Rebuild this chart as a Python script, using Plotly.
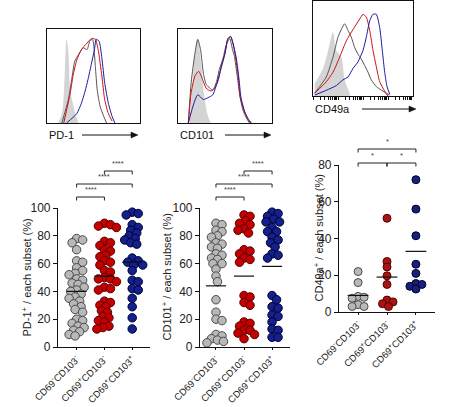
import plotly.graph_objects as go
import math

W, H = 450, 407

# ---------------- data ----------------
categories = ["CD69<sup>-</sup>CD103<sup>-</sup>", "CD69<sup>+</sup>CD103<sup>-</sup>", "CD69<sup>+</sup>CD103<sup>+</sup>"]

pd1_neg = [78, 77, 75, 70, 62, 61, 57, 55, 53, 52, 49, 48, 46, 45, 43, 41, 40, 38, 36, 35, 33, 31, 29, 27, 25, 20, 19, 17, 15, 14, 12, 11, 9, 8]
pd1_cd69 = [89, 88, 87, 86, 76, 75, 73, 70, 69, 66, 65, 62, 61, 59, 55, 54, 50, 49, 49, 47, 43, 42, 41, 33, 32, 30, 29, 26, 25, 22, 21, 19, 18, 15, 14, 13]
pd1_dp = [97, 96, 95, 88, 86, 84, 82, 80, 78, 77, 75, 74, 64, 62, 61, 59, 59, 55, 48, 47, 42, 41, 35, 29, 21, 13]
pd1_means = [40, 51, 61]

cd101_neg = [89, 88, 84, 83, 80, 79, 75, 74, 72, 71, 67, 66, 64, 63, 60, 60, 56, 51, 47, 34, 25, 20, 19, 9, 8, 6, 5, 4, 3]
cd101_cd69 = [95, 94, 91, 89, 88, 85, 84, 82, 70, 69, 67, 64, 63, 61, 37, 36, 32, 30, 18, 17, 15, 12, 12, 10, 9, 6]
cd101_dp = [97, 96, 94, 92, 90, 90, 86, 83, 83, 79, 77, 75, 72, 67, 66, 64, 37, 34, 29, 28, 23, 22, 18, 13, 12, 7, 7]
cd101_means = [44, 51, 58]

cd49a_neg = [22, 16, 8.5, 8, 7.5, 4, 3, 3]
cd49a_cd69 = [51, 27.5, 24.5, 19.7, 15, 6.5, 5.5, 4.5, 3]
cd49a_dp = [72, 56, 41.5, 26, 21, 15.5, 15, 14, 12.5]
cd49a_means = [9, 19, 33]

pd1_sig = ["****", "****", "****"]
cd101_sig = ["****", "****", "****"]
cd49a_sig = ["*", "*", "*"]
comparisons = [(0, 1), (0, 2), (1, 2)]

# histogram curves (relative scale 0..1)
pd1_iso_x = [0.12, 0.16, 0.19, 0.21, 0.23, 0.25, 0.28, 0.31, 0.34]
pd1_iso_y = [0.0, 0.1, 0.5, 0.89, 0.75, 0.35, 0.2, 0.08, 0.0]
pd1_neg_x = [0.16, 0.23, 0.265, 0.3, 0.34, 0.39, 0.43, 0.46, 0.49, 0.52, 0.54, 0.57, 0.61, 0.64]
pd1_neg_y = [0.0, 0.25, 0.46, 0.66, 0.73, 0.8, 0.78, 0.87, 0.89, 0.6, 0.35, 0.18, 0.07, 0.0]
pd1_cd69_x = [0.18, 0.25, 0.28, 0.32, 0.37, 0.43, 0.48, 0.52, 0.55, 0.59, 0.62, 0.66, 0.7]
pd1_cd69_y = [0.0, 0.32, 0.5, 0.67, 0.78, 0.85, 0.9, 0.89, 0.78, 0.5, 0.25, 0.1, 0.02]
pd1_dp_x = [0.21, 0.32, 0.37, 0.41, 0.44, 0.48, 0.51, 0.53, 0.56, 0.59, 0.62, 0.66, 0.7, 0.73]
pd1_dp_y = [0.0, 0.1, 0.21, 0.34, 0.46, 0.64, 0.78, 0.89, 0.87, 0.69, 0.43, 0.21, 0.07, 0.0]

cd101_iso_x = [0.12, 0.15, 0.18, 0.21, 0.25, 0.28, 0.32, 0.35]
cd101_iso_y = [0.0, 0.35, 0.75, 0.89, 0.6, 0.28, 0.07, 0.0]
cd101_neg_x = [0.11, 0.14, 0.18, 0.21, 0.24, 0.27, 0.3, 0.34, 0.37, 0.41, 0.44, 0.48, 0.51, 0.55, 0.58, 0.6, 0.63, 0.66, 0.69, 0.73, 0.76]
cd101_neg_y = [0.0, 0.43, 0.74, 0.89, 0.78, 0.53, 0.41, 0.37, 0.35, 0.44, 0.57, 0.69, 0.82, 0.9, 0.78, 0.71, 0.5, 0.28, 0.14, 0.05, 0.0]
cd101_cd69_x = [0.11, 0.14, 0.18, 0.22, 0.27, 0.3, 0.35, 0.39, 0.43, 0.46, 0.5, 0.53, 0.56, 0.59, 0.61, 0.64, 0.66, 0.7, 0.74, 0.78]
cd101_cd69_y = [0.0, 0.32, 0.5, 0.55, 0.44, 0.37, 0.34, 0.37, 0.46, 0.6, 0.74, 0.9, 0.92, 0.82, 0.71, 0.5, 0.28, 0.14, 0.04, 0.0]
cd101_dp_x = [0.11, 0.16, 0.21, 0.27, 0.32, 0.37, 0.41, 0.46, 0.5, 0.53, 0.56, 0.59, 0.62, 0.65, 0.67, 0.71, 0.75, 0.78]
cd101_dp_y = [0.0, 0.18, 0.3, 0.25, 0.27, 0.3, 0.41, 0.59, 0.74, 0.89, 0.92, 0.83, 0.69, 0.46, 0.27, 0.12, 0.04, 0.0]

cd49a_iso_x = [0.017, 0.067, 0.117, 0.167, 0.2, 0.233, 0.283, 0.317, 0.367]
cd49a_iso_y = [0.13, 0.22, 0.34, 0.55, 0.67, 0.48, 0.41, 0.17, 0.03]
cd49a_neg_x = [0.017, 0.067, 0.133, 0.2, 0.25, 0.283, 0.317, 0.35, 0.383, 0.417, 0.45, 0.483, 0.517, 0.55, 0.583, 0.633, 0.7, 0.767]
cd49a_neg_y = [0.03, 0.1, 0.2, 0.41, 0.62, 0.7, 0.76, 0.69, 0.62, 0.51, 0.44, 0.39, 0.32, 0.25, 0.17, 0.1, 0.05, 0.01]
cd49a_cd69_x = [0.017, 0.067, 0.133, 0.2, 0.267, 0.333, 0.4, 0.467, 0.5, 0.533, 0.567, 0.6, 0.633, 0.667, 0.717, 0.75]
cd49a_cd69_y = [0.03, 0.08, 0.15, 0.25, 0.41, 0.58, 0.7, 0.81, 0.86, 0.83, 0.69, 0.48, 0.31, 0.15, 0.05, 0.0]
cd49a_dp_x = [0.017, 0.133, 0.233, 0.3, 0.35, 0.4, 0.45, 0.5, 0.533, 0.567, 0.6, 0.633, 0.667, 0.693, 0.717, 0.74, 0.767]
cd49a_dp_y = [0.01, 0.06, 0.11, 0.17, 0.2, 0.29, 0.36, 0.48, 0.62, 0.79, 0.86, 0.86, 0.72, 0.48, 0.25, 0.1, 0.02]

# ---------------- helpers ----------------
def px(x):
    return x / W

def py(y):
    return 1 - y / H

FONT = "Arial, Liberation Sans, sans-serif"
GRAY_F, GRAY_L = "#b8b8b8", "#4a4a4a"
RED_F, RED_L = "#c40000", "#5a0000"
BLUE_F, BLUE_L = "#14208c", "#000033"
HIST_GRAY = "#d4d4d4"
HIST_DARK = "#555555"
HIST_RED = "#cc1111"
HIST_BLUE = "#1a1aa0"

fig = go.Figure()

def swarm(vals, ypu, xpu, d=7.0):
    order = sorted(range(len(vals)), key=lambda i: -vals[i])
    placed = []
    res = [0.0] * len(vals)
    cands = [0.0]
    for k in range(1, 14):
        cands += [k * 1.5, -k * 1.5]
    for i in order:
        yv = vals[i] * ypu
        chosen = cands[-1]
        for c in cands:
            if all((c - a) ** 2 + (yv - b) ** 2 >= d * d for a, b in placed):
                chosen = c
                break
        placed.append((chosen, yv))
        res[i] = chosen / xpu
    return res

# ---------------- histogram panels ----------------
hist_panels = [
    dict(n=1, x0=47, x1=140, y0=29, y1=123,
         curves=[(pd1_iso_x, pd1_iso_y), (pd1_neg_x, pd1_neg_y), (pd1_cd69_x, pd1_cd69_y), (pd1_dp_x, pd1_dp_y)],
         label="PD-1", lx=47, ly=135, ax0=82, ax1=138, ticks=False),
    dict(n=2, x0=178, x1=272, y0=29, y1=123,
         curves=[(cd101_iso_x, cd101_iso_y), (cd101_neg_x, cd101_neg_y), (cd101_cd69_x, cd101_cd69_y), (cd101_dp_x, cd101_dp_y)],
         label="CD101", lx=178, ly=135, ax0=225, ax1=271, ticks=False),
    dict(n=3, x0=313, x1=413, y0=1, y1=96,
         curves=[(cd49a_iso_x, cd49a_iso_y), (cd49a_neg_x, cd49a_neg_y), (cd49a_cd69_x, cd49a_cd69_y), (cd49a_dp_x, cd49a_dp_y)],
         label="CD49a", lx=313, ly=109, ax0=362, ax1=416, ticks=True),
]

annotations = []
shapes = []
layout_axes = {}

for hp in hist_panels:
    n = hp["n"]
    xa, ya = ("x" if n == 1 else f"x{n}"), ("y" if n == 1 else f"y{n}")
    colors = [None, HIST_DARK, HIST_RED, HIST_BLUE]
    for j, (cx, cy) in enumerate(hp["curves"]):
        if j == 0:
            fig.add_trace(go.Scatter(x=cx, y=cy, mode="lines", line=dict(width=0, shape="spline"),
                                     fill="tozeroy", fillcolor=HIST_GRAY, xaxis=xa, yaxis=ya,
                                     showlegend=False, hoverinfo="skip"))
        else:
            fig.add_trace(go.Scatter(x=cx, y=cy, mode="lines", line=dict(width=1, color=colors[j], shape="spline", smoothing=0.6),
                                     xaxis=xa, yaxis=ya, showlegend=False, hoverinfo="skip"))
    key = "" if n == 1 else str(n)
    xdict = dict(domain=[px(hp["x0"]), px(hp["x1"])], range=[0, 1], anchor=ya, automargin=False,
                 showline=True, mirror=True, linecolor="#111", linewidth=1,
                 showgrid=False, zeroline=False, showticklabels=False)
    if hp["ticks"]:
        tv = []
        for dec in range(4):
            for k in range(1, 10):
                tv.append(dec * 0.25 + 0.25 * math.log10(k))
        xdict.update(ticks="outside", tickvals=tv, ticklen=3, tickwidth=1, tickcolor="#111", mirror=True)
    else:
        xdict.update(ticks="")
    layout_axes["xaxis" + key] = xdict
    layout_axes["yaxis" + key] = dict(domain=[py(hp["y1"]), py(hp["y0"])], range=[0, 1], anchor=xa, automargin=False,
                                      showline=True, mirror=True, linecolor="#111", linewidth=1,
                                      showgrid=False, zeroline=False, showticklabels=False, ticks="")
    annotations.append(dict(text=hp["label"], xref="paper", yref="paper", x=px(hp["lx"]), y=py(hp["ly"]),
                            xanchor="left", yanchor="middle", showarrow=False,
                            font=dict(family=FONT, size=11, color="#111")))
    # arrow: shaft + filled head
    head = 7
    shapes.append(dict(type="line", xref="paper", yref="paper",
                       x0=px(hp["ax0"]), x1=px(hp["ax1"] - head + 1), y0=py(hp["ly"]), y1=py(hp["ly"]),
                       line=dict(color="#111", width=1)))
    shapes.append(dict(type="path", xref="paper", yref="paper",
                       path=(f"M {px(hp['ax1'])},{py(hp['ly'])} L {px(hp['ax1'] - head)},{py(hp['ly'] - 3)} "
                             f"L {px(hp['ax1'] - head)},{py(hp['ly'] + 3)} Z"),
                       fillcolor="#111", line=dict(color="#111", width=0.5)))

# ---------------- scatter panels ----------------
scatter_panels = [
    dict(n=4, x0=58, x1=150, y0=208, y1=347, xr=[-0.67, 2.64], yr=[0, 100], yt=[0, 20, 40, 60, 80, 100],
         series=[pd1_neg, pd1_cd69, pd1_dp], means=pd1_means, sig=pd1_sig,
         title="PD-1<sup>+</sup> / each subset (%)", tx=26,
         brk=[197, 184, 171], msize=8.5, red=RED_F, blue=BLUE_F),
    dict(n=5, x0=200, x1=290, y0=208, y1=347, xr=[-0.57, 2.64], yr=[0, 100], yt=[0, 20, 40, 60, 80, 100],
         series=[cd101_neg, cd101_cd69, cd101_dp], means=cd101_means, sig=cd101_sig,
         title="CD101<sup>+</sup> / each subset (%)", tx=166,
         brk=[197, 184, 171], msize=8.5, red=RED_F, blue=BLUE_F),
    dict(n=6, x0=339, x1=435, y0=165, y1=312, xr=[-0.66, 2.66], yr=[0, 80], yt=[0, 20, 40, 60, 80],
         series=[cd49a_neg, cd49a_cd69, cd49a_dp], means=cd49a_means, sig=cd49a_sig,
         title="CD49a<sup>+</sup> / each subset (%)", tx=318,
         brk=[163, 149, 163], msize=8, red="#a51515", blue="#1a1f78"),
]

for sp in scatter_panels:
    n = sp["n"]
    xa, ya = f"x{n}", f"y{n}"
    hpx = sp["y1"] - sp["y0"]
    ypu = hpx / (sp["yr"][1] - sp["yr"][0])
    xpu = (sp["x1"] - sp["x0"]) / (sp["xr"][1] - sp["xr"][0])
    fills = [(GRAY_F, GRAY_L), (sp["red"], RED_L), (sp["blue"], BLUE_L)]
    for ci, vals in enumerate(sp["series"]):
        offs = swarm(vals, ypu, xpu, d=sp["msize"] * 0.66)
        fig.add_trace(go.Scatter(x=[ci + o for o in offs], y=vals, mode="markers",
                                 marker=dict(size=sp["msize"], color=fills[ci][0],
                                             line=dict(width=1, color=fills[ci][1])),
                                 xaxis=xa, yaxis=ya, cliponaxis=False, showlegend=False, hoverinfo="skip"))
    mx, my = [], []
    for ci, m in enumerate(sp["means"]):
        mx += [ci - 0.36, ci + 0.36, None]
        my += [m, m, None]
    fig.add_trace(go.Scatter(x=mx, y=my, mode="lines", line=dict(color="#111", width=1.2),
                             xaxis=xa, yaxis=ya, showlegend=False, hoverinfo="skip"))
    layout_axes[f"xaxis{n}"] = dict(domain=[px(sp["x0"]), px(sp["x1"])], range=sp["xr"], anchor=ya, automargin=False,
                                    tickvals=[0, 1, 2], ticktext=categories, tickangle=-45,
                                    showline=True, linecolor="#111", linewidth=1.2,
                                    ticks="outside", ticklen=2, tickwidth=1, tickcolor="#111",
                                    showgrid=False, zeroline=False,
                                    tickfont=dict(family=FONT, size=9.5, color="#222"))
    layout_axes[f"yaxis{n}"] = dict(domain=[py(sp["y1"]), py(sp["y0"])], range=sp["yr"], anchor=xa, automargin=False,
                                    tickvals=sp["yt"], showline=True, linecolor="#111", linewidth=1.2,
                                    ticks="outside", ticklen=4, tickwidth=1, tickcolor="#111",
                                    showgrid=False, zeroline=False,
                                    tickfont=dict(family=FONT, size=12, color="#222"))
    annotations.append(dict(text=sp["title"], xref="paper", yref="paper", x=px(sp["tx"]),
                            y=py((sp["y0"] + sp["y1"]) / 2), textangle=-90, showarrow=False,
                            xanchor="center", yanchor="middle",
                            font=dict(family=FONT, size=11, color="#222")))
    # significance brackets
    for (a, b), lbl, yb in zip(comparisons, sp["sig"], sp["brk"]):
        yd = (sp["y1"] - yb) / hpx
        td = 3.5 / hpx
        shapes.append(dict(type="path", xref=xa, yref=f"{ya} domain",
                           path=f"M {a},{yd - td} L {a},{yd} L {b},{yd} L {b},{yd - td}",
                           line=dict(color="#222", width=1)))
        annotations.append(dict(text=lbl, xref=xa, yref=f"{ya} domain", x=(a + b) / 2, y=yd + 1 / hpx,
                                xanchor="center", yanchor="bottom", showarrow=False,
                                font=dict(family=FONT, size=7.5, color="#444")))

fig.update_layout(width=W, height=H, margin=dict(l=0, r=0, t=0, b=0, pad=0, autoexpand=False),
                  paper_bgcolor="white", plot_bgcolor="rgba(0,0,0,0)",
                  annotations=annotations, shapes=shapes, **layout_axes)

fig.write_html("out.html", config={"displayModeBar": False},
               post_script="document.body.style.margin='0';document.body.style.overflow='hidden';")
